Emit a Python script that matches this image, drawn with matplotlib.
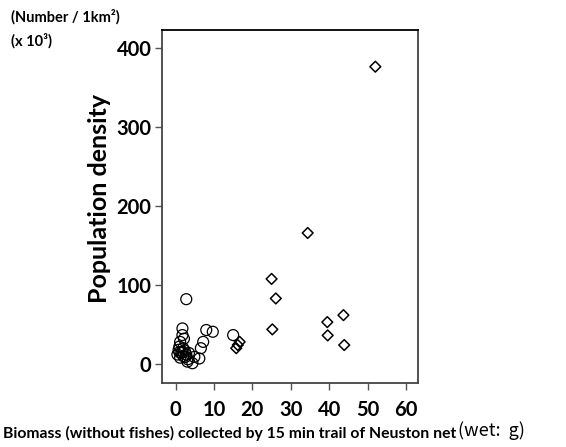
import matplotlib
matplotlib.use("Agg")
import matplotlib.pyplot as plt

# circles (samples near the coast)
circ_x = [2.8, 15.0, 8.0, 9.7, 7.2, 6.6, 6.2, 4.9, 4.4, 3.1, 1.8, 1.8, 1.2, 1.0, 1.8, 2.2,
          0.5, 0.8, 1.2, 1.5, 2.0, 2.4, 2.8, 3.2, 1.0, 2.0, 3.5, 2.6]
circ_y = [82, 36.6, 43, 40.8, 28, 20, 7, 9, 1, 3, 45, 36.6, 28, 22, 15.5, 32,
          12, 18, 8, 14, 10, 17, 12, 6, 15, 20, 14, 9]

# diamonds (offshore samples)
diam_x = [52.0, 34.4, 25.0, 26.1, 25.2, 43.7, 39.5, 39.6, 43.9, 15.8, 16.2, 16.7]
diam_y = [376, 165.7, 107.6, 82.9, 43.8, 61.8, 53, 36.2, 24, 20, 24, 28]

xticks = [0, 10, 20, 30, 40, 50, 60]
yticks = [0, 100, 200, 300, 400]

plt.rcParams["font.family"] = ["Lato", "DejaVu Sans"]

fig = plt.figure(figsize=(5.66, 4.47), dpi=100)
ax = fig.add_axes([0.287, 0.1432, 0.4515, 0.7897])

ax.scatter(circ_x, circ_y, s=62, facecolors="none", edgecolors="black", linewidths=0.9, marker="o")
ax.scatter(diam_x, diam_y, s=30, facecolors="none", edgecolors="black", linewidths=1.1, marker="D")

ax.set_xlim(-3.4, 63.1)
ax.set_ylim(-24, 422.4)
ax.set_xticks(xticks)
ax.set_yticks(yticks)

for sp in ax.spines.values():
    sp.set_color("#444444")
    sp.set_linewidth(1.3)
ax.spines["top"].set_color("black")

ax.tick_params(direction="out", length=5, width=1, color="#555555", labelsize=14.5)
ax.tick_params(axis="x", pad=7)
ax.tick_params(axis="y", pad=3)
for lab in ax.get_xticklabels() + ax.get_yticklabels():
    lab.set_fontweight("bold")

fig.text(0.175, 0.555, "Population density", rotation=90, ha="center", va="center",
         fontsize=18, fontweight="bold")

fig.text(0.02, 0.962, "(Number / 1km²)", ha="left", va="center", fontsize=10.5, fontweight="bold")
fig.text(0.02, 0.908, "(x 10³)", ha="left", va="center", fontsize=10.5, fontweight="bold")

fig.text(0.005, 0.031, "Biomass (without fishes) collected by 15 min trail of Neuston net",
         ha="left", va="center", fontsize=11.3, fontweight="bold")
fig.text(0.809, 0.036, "(wet:  g)", ha="left", va="center", fontsize=13,
         family=["Noto Sans CJK JP", "DejaVu Sans"])

fig.savefig("out.png", dpi=100)
